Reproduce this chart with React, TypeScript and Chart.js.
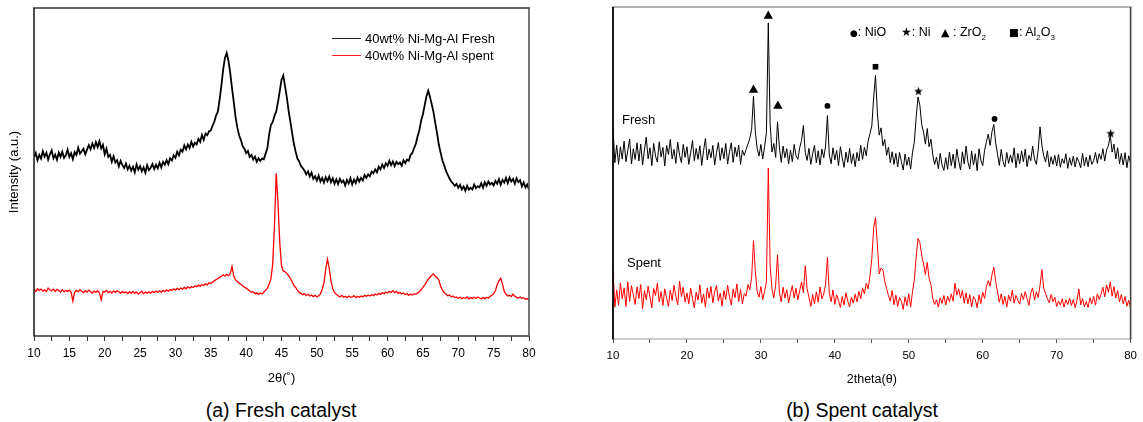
import React, { useEffect, useRef } from "react";
import { Chart, registerables } from "chart.js";

Chart.register(...registerables);

const FONT = '"Liberation Sans", Arial, Helvetica, sans-serif';

// Scan grid: 2θ from 10° in 0.25° steps (281 samples to 80°)
const SCAN_START = 10;
const SCAN_STEP = 0.25;

// (a) Fresh catalyst – relative intensity (a.u.)
const FRESH_A = [
  54.5, 55.8, 53.6, 55.2, 54.1, 56.3, 54.7, 55.9, 53.8, 55.4, 56.6, 54.2, 55.3, 53.7, 55.9, 54.6, 56.2, 54.3, 55.1, 56.8,
  54.6, 55.7, 53.9, 56.1, 55.2, 57.4, 55.6, 56.3, 57.1, 55.4, 56.8, 58.2, 56.9, 58.7, 57.3, 59.1, 57.6, 59.4, 57.2, 58.3,
  55.4, 57.1, 54.6, 55.2, 53.1, 54.8, 52.9, 53.6, 51.7, 53.4, 52.1, 51.2, 52.6, 50.8, 51.9, 50.4, 51.6, 49.9, 52.3, 50.7,
  51.8, 50.2, 51.4, 49.8, 52.1, 50.6, 51.3, 52.4, 50.9, 52.2, 51.1, 52.8, 51.4, 53.1, 52.2, 53.6, 52.4, 54.2, 53.5, 55.1,
  54.3, 56.2, 55.1, 56.8, 56.2, 58.1, 56.9, 58.4, 57.3, 59.2, 57.8, 58.9, 58.4, 60.1, 59.2, 61.3, 59.8, 61.7, 61.2, 62.4,
  62.6, 64.1, 65.3, 67.2, 68.4, 72.1, 76.3, 81.2, 84.8, 86.3, 83.9, 80.2, 75.6, 71.4, 66.8, 63.6, 61.2, 59.8, 57.9, 57.1,
  55.7, 56.4, 54.6, 55.2, 53.8, 54.7, 53.1, 54.2, 53.4, 54.1, 53.9, 55.6, 57.2, 61.4, 64.3, 65.2, 67.1, 68.4, 71.3, 74.6,
  78.1, 79.4, 76.2, 72.8, 68.7, 65.4, 61.9, 58.6, 56.2, 54.1, 53.2, 51.8, 51.2, 50.4, 49.3, 50.2, 48.6, 49.8, 47.9, 48.7,
  47.4, 48.9, 47.1, 48.2, 46.8, 48.4, 47.2, 48.6, 46.9, 48.1, 46.4, 47.8, 46.3, 47.9, 46.8, 47.4, 45.9, 47.6, 46.5, 48.1,
  46.2, 47.7, 46.6, 48.3, 47.1, 48.2, 47.4, 49.1, 48.2, 49.3, 48.7, 50.1, 49.6, 50.8, 49.9, 51.6, 50.8, 52.3, 51.2, 52.7,
  51.9, 53.4, 52.1, 53.2, 51.8, 53.1, 52.4, 52.9, 51.9, 53.6, 52.7, 53.8, 53.4, 55.2, 55.8, 57.3, 58.6, 60.9, 62.8, 65.7,
  67.6, 70.4, 73.1, 74.8, 72.9, 70.6, 68.2, 64.9, 61.8, 58.3, 55.9, 53.6, 52.1, 50.4, 49.2, 48.1, 47.1, 46.5, 45.8, 46.4,
  45.2, 46.1, 44.7, 45.6, 44.3, 45.8, 44.6, 45.2, 44.7, 46.2, 45.1, 45.7, 45.3, 46.6, 45.2, 46.9, 45.8, 47.1, 46.2, 46.7,
  45.9, 47.3, 46.4, 47.8, 46.1, 47.6, 46.8, 48.2, 46.6, 48.3, 47.1, 47.9, 46.4, 48.1, 46.9, 47.5, 45.6, 46.8, 45.3, 46.2,
  44.6,
];

const SPENT_A = [
  14.2, 13.6, 14.4, 13.9, 14.3, 13.7, 14.1, 13.5, 14.6, 14.1, 13.8, 14.3, 13.6, 14.2, 13.9, 13.4, 14.1, 13.5, 13.9, 13.6,
  14.0, 13.3, 10.6, 13.4, 13.9, 13.5, 14.1, 13.6, 13.2, 13.8, 13.4, 14.0, 13.5, 13.1, 13.7, 13.3, 13.8, 13.2, 11.0, 13.6,
  13.4, 13.9, 13.2, 13.6, 13.1, 13.7, 13.3, 13.8, 13.5, 13.0, 13.6, 13.2, 13.4, 12.9, 13.5, 13.1, 13.6, 13.0, 13.4, 12.8,
  13.3, 13.7, 12.9, 13.4, 13.0, 13.5, 13.1, 13.6, 13.2, 13.7, 13.3, 13.8, 13.4, 13.9, 13.5, 14.1, 13.7, 14.2, 13.9, 14.4,
  14.0, 14.5, 14.1, 14.6, 14.3, 14.8, 14.4, 15.0, 14.6, 15.1, 14.8, 15.3, 15.0, 15.5, 15.2, 15.7, 15.4, 15.9, 15.6, 16.2,
  16.0, 16.4, 16.8, 17.2, 17.5, 17.9, 18.2, 18.6, 18.3, 18.8, 18.4, 19.0, 21.2, 18.2, 17.1, 16.6, 16.1, 15.8, 15.3, 14.9,
  14.6, 14.2, 13.7, 13.3, 13.5, 12.9, 13.2, 12.7, 13.1, 12.8, 13.4, 13.9, 14.6, 15.8, 17.4, 21.8, 33.2, 49.6, 40.8, 28.6,
  21.4, 19.8, 19.6, 19.1, 18.4, 17.6, 16.5, 15.4, 14.8, 14.0, 13.3, 13.0, 12.6, 12.9, 12.3, 12.7, 12.2, 12.5, 12.0, 12.4,
  11.9, 12.3, 12.8, 14.2, 16.1, 20.4, 23.4, 20.6, 16.8, 14.4, 13.2, 12.7, 12.3, 11.9, 12.4, 11.8, 12.1, 11.7, 12.2, 11.8,
  11.9, 12.3, 11.7, 12.1, 11.8, 12.2, 11.9, 12.4, 12.1, 12.5, 12.2, 12.6, 12.3, 12.8, 12.5, 13.0, 12.7, 13.2, 12.9, 13.4,
  13.1, 13.6, 13.3, 13.8, 13.2, 13.6, 13.0, 13.3, 12.8, 13.1, 12.6, 12.9, 12.4, 12.8, 12.5, 12.9, 12.7, 13.1, 13.5, 14.1,
  14.8, 15.6, 16.4, 17.3, 17.9, 18.5, 18.9, 18.2, 17.8, 17.1, 15.2, 14.1, 13.2, 12.8, 12.3, 12.5, 11.9, 12.2, 11.7, 11.9,
  11.5, 11.8, 11.4, 11.7, 11.5, 11.9, 11.3, 11.7, 11.4, 11.8, 11.5, 11.9, 11.6, 11.3, 11.7, 11.4, 11.8, 11.5, 12.1, 12.4,
  12.9, 13.8, 15.6, 16.8, 17.6, 15.8, 13.6, 12.7, 12.2, 12.4, 12.0, 12.8, 12.1, 11.8, 11.6, 11.9, 11.5, 11.7, 11.2, 11.4,
  10.9,
];

// (b) Spent catalyst panel – Fresh and Spent patterns
const FRESH_B = [
  63.5, 53.1, 58.4, 52.6, 57.9, 54.2, 59.6, 53.4, 56.8, 60.2, 52.7, 57.3, 54.1, 59.1, 53.6, 58.7, 52.4, 56.9, 60.8, 54.3,
  57.6, 52.2, 58.9, 55.1, 53.3, 59.4, 54.8, 57.7, 52.1, 58.3, 55.6, 60.1, 54.2, 57.1, 52.9, 59.3, 55.4, 53.1, 58.6, 54.7,
  57.9, 52.6, 56.1, 59.8, 53.7, 57.4, 54.1, 58.2, 52.3, 56.8, 60.4, 53.9, 57.2, 54.6, 58.3, 52.4, 56.1, 59.2, 53.8, 57.6,
  54.3, 58.9, 52.7, 56.4, 59.1, 53.2, 57.8, 54.9, 58.4, 52.6, 56.9, 55.3, 57.1, 58.7, 60.4, 63.2, 73.1, 62.4, 57.3, 55.1,
  58.6, 54.2, 57.9, 62.1, 95.2, 64.8, 56.3, 58.9, 54.7, 65.4, 57.8, 53.2, 58.1, 54.6, 57.3, 52.8, 56.9, 53.4, 58.6, 55.2,
  54.1, 57.6, 59.8, 64.3, 56.2, 53.8, 57.4, 52.6, 55.8, 58.3, 53.1, 56.7, 52.4, 57.2, 54.6, 58.1, 67.3, 55.4, 52.8, 57.6,
  53.9, 56.8, 52.2, 57.9, 54.6, 51.7, 56.3, 53.2, 57.4, 52.9, 55.8, 51.9, 56.2, 53.6, 58.4, 54.1, 57.7, 55.2, 59.6, 61.8,
  64.2, 72.6, 79.4, 68.3, 61.4, 63.6, 58.2, 60.1, 55.3, 57.8, 53.1, 56.4, 52.6, 55.9, 51.8, 56.2, 53.4, 50.9, 55.7, 52.3,
  54.8, 51.2, 56.1, 59.3, 66.8, 72.9, 70.4, 64.6, 62.3, 58.7, 63.4, 57.9, 60.2, 55.4, 52.6, 54.8, 51.3, 55.9, 52.4, 50.8,
  54.6, 51.1, 56.3, 52.2, 55.7, 51.4, 57.2, 53.6, 50.9, 56.4, 52.7, 58.1, 53.3, 51.2, 56.6, 52.4, 55.8, 50.7, 57.3, 53.9,
  52.2, 56.8, 59.4, 61.7, 58.3, 62.4, 64.6, 59.1, 55.7, 52.3, 57.1, 53.4, 51.8, 56.2, 52.9, 55.4, 53.1, 57.6, 51.6, 55.9,
  52.8, 56.7, 53.4, 57.2, 51.9, 55.3, 53.7, 58.1, 54.2, 52.6, 56.9, 63.9, 58.4, 55.2, 53.3, 56.7, 51.8, 54.9, 52.6, 55.3,
  52.1, 55.6, 51.7, 54.3, 52.9, 55.8, 51.4, 54.6, 52.3, 55.1, 51.8, 54.7, 53.4, 51.6, 55.9, 52.2, 54.8, 51.9, 55.4, 52.6,
  53.7, 56.2, 52.9, 55.8, 54.1, 57.3, 53.6, 56.9, 58.2, 61.4, 56.3, 58.7, 54.2, 57.6, 52.8, 55.9, 52.4, 56.1, 51.6, 55.2,
  52.8,
];

const SPENT_B = [
  21.5, 9.6, 14.8, 10.2, 16.9, 12.1, 15.4, 9.8, 17.2, 11.3, 16.1, 13.2, 10.4, 15.7, 12.2, 16.4, 9.1, 14.6, 11.8, 15.9,
  12.6, 9.4, 15.2, 13.1, 16.8, 11.2, 14.3, 10.1, 15.1, 12.4, 9.8, 14.7, 11.6, 16.2, 12.9, 10.3, 17.4, 12.8, 15.6, 11.1,
  13.9, 10.6, 15.3, 12.2, 9.4, 14.1, 11.7, 16.3, 10.8, 13.6, 9.6, 15.4, 12.3, 15.8, 10.9, 14.2, 16.1, 11.4, 13.8, 9.9,
  14.6, 11.9, 16.2, 12.7, 10.2, 15.1, 12.4, 16.6, 11.3, 14.9, 10.6, 13.7, 12.9, 16.4, 14.8, 18.6, 29.6, 20.4, 14.2, 12.6,
  15.8, 11.9, 14.3, 17.2, 51.5, 22.3, 15.1, 12.4, 16.2, 25.4, 14.1, 11.2, 15.6, 12.3, 14.8, 10.9, 13.7, 16.1, 12.4, 15.3,
  11.8, 14.6, 17.2, 13.9, 22.1, 15.2, 12.6, 9.8, 13.4, 10.6, 14.2, 11.1, 15.7, 12.1, 13.6, 16.4, 24.6, 13.9, 11.2, 14.8,
  10.4, 13.3, 11.6, 9.5, 12.8, 10.2, 13.9, 11.4, 9.7, 12.6, 10.8, 13.5, 11.2, 14.3, 12.1, 15.4, 13.6, 16.8, 15.1, 18.9,
  24.2, 33.4, 36.6, 28.3, 19.6, 21.4, 20.8, 17.3, 15.2, 13.1, 11.4, 14.6, 10.3, 13.2, 9.8, 12.5, 11.4, 8.9, 12.7, 10.1,
  13.6, 9.7, 14.2, 17.8, 24.6, 30.3, 29.1, 25.2, 22.6, 19.4, 23.1, 18.2, 16.4, 12.1, 10.4, 11.8, 9.6, 12.4, 10.7, 13.1,
  10.2, 12.9, 11.3, 13.6, 11.4, 16.8, 13.2, 15.1, 12.3, 14.6, 10.8, 13.9, 10.6, 13.4, 9.6, 12.8, 11.9, 9.4, 13.3, 10.7,
  14.1, 12.2, 15.8, 17.6, 15.9, 19.3, 21.6, 17.4, 14.2, 11.1, 13.6, 10.4, 12.8, 9.6, 13.2, 11.4, 14.7, 10.8, 13.1, 11.6,
  10.5, 13.7, 11.9, 14.3, 12.2, 10.1, 13.8, 15.4, 11.7, 14.2, 12.5, 16.1, 20.9, 15.3, 13.7, 12.1, 10.9, 13.4, 11.2, 12.6,
  9.8, 11.4, 10.2, 12.1, 9.6, 11.8, 10.4, 12.3, 10.1, 11.9, 9.4, 11.6, 15.1, 10.3, 12.2, 9.7, 11.3, 9.5, 12.4, 10.6,
  12.8, 10.2, 13.6, 11.9, 13.4, 15.6, 12.7, 16.3, 14.1, 17.2, 12.9, 15.8, 12.3, 14.6, 11.2, 13.4, 10.6, 12.8, 9.9, 11.7,
  9.2,
];

// Phase markers (2θ position, marker height in a.u.)
const ZRO2_X = [29.0, 31.0, 32.3];
const ZRO2_Y = [75.0, 97.3, 70.2];
const NIO_X = [39.0, 61.6];
const NIO_Y = [70.2, 66.3];
const NI_X = [51.3, 77.3];
const NI_Y = [74.7, 62.0];
const AL2O3_X = [45.5];
const AL2O3_Y = [82.0];

const X_MIN = 10;
const X_MAX = 80;

const toXY = (vals: number[]) => vals.map((v, i) => ({ x: SCAN_START + i * SCAN_STEP, y: v }));
const pairs = (xs: number[], ys: number[]) => xs.map((x, i) => ({ x, y: ys[i] }));

type Side = { color: string; width: number };
const framePlugin = {
  id: "frame",
  afterDatasetsDraw(chart: any, _args: any, opts: any) {
    const { ctx, chartArea } = chart;
    const { left, right, top, bottom } = chartArea;
    const line = (s: Side | undefined, x1: number, y1: number, x2: number, y2: number) => {
      if (!s) return;
      ctx.save();
      ctx.strokeStyle = s.color;
      ctx.lineWidth = s.width;
      ctx.beginPath();
      ctx.moveTo(x1, y1);
      ctx.lineTo(x2, y2);
      ctx.stroke();
      ctx.restore();
    };
    line(opts.top, left - 1, top, right + 1, top);
    line(opts.bottom, left, bottom, right, bottom);
    line(opts.left, left, top, left, bottom + 0.5);
    line(opts.right, right, top, right, bottom + 0.5);
  },
};

function makeStar(size: number) {
  const c = document.createElement("canvas");
  c.width = size;
  c.height = size;
  const g = c.getContext("2d")!;
  g.fillStyle = "#000";
  g.beginPath();
  for (let i = 0; i < 10; i++) {
    const r = i % 2 === 0 ? size / 2 : size / 4.6;
    const a = -Math.PI / 2 + (i * Math.PI) / 5;
    g.lineTo(size / 2 + r * Math.cos(a), size / 2 + 0.5 + r * Math.sin(a));
  }
  g.closePath();
  g.fill();
  return c;
}

export default function App() {
  const refA = useRef<HTMLCanvasElement>(null);
  const refB = useRef<HTMLCanvasElement>(null);

  useEffect(() => {
    const chartA = new Chart(refA.current!, {
      type: "line",
      data: {
        datasets: [
          { label: "40wt% Ni-Mg-Al Fresh", data: toXY(FRESH_A), borderColor: "#000", borderWidth: 1.8, pointRadius: 0 },
          { label: "40wt% Ni-Mg-Al spent", data: toXY(SPENT_A), borderColor: "#ff0000", borderWidth: 1.3, pointRadius: 0 },
        ],
      },
      options: {
        animation: false,
        responsive: false,
        devicePixelRatio: 1,
        layout: { padding: { left: 0, top: 8, right: 31, bottom: 0 } },
        plugins: {
          legend: { display: false },
          tooltip: { enabled: false },
          frame: {
            top: { color: "#333", width: 1.6 },
            bottom: { color: "#333", width: 1.6 },
            left: { color: "#222", width: 1.6 },
            right: { color: "#555", width: 1.6 },
          },
        } as any,
        scales: {
          x: {
            type: "linear",
            min: X_MIN,
            max: X_MAX,
            border: { display: false },
            grid: { drawOnChartArea: false, tickLength: 5, color: "#333" },
            ticks: {
              stepSize: 2.5,
              autoSkip: false,
              maxRotation: 0,
              padding: 5,
              color: "#000",
              font: { family: FONT, size: 12 },
              callback: (v: any) => (Number(v) % 5 === 0 ? String(v) : ""),
            },
            title: {
              display: true,
              text: "2θ(˚)",
              color: "#000",
              font: { family: FONT, size: 13 },
              padding: { top: 0, bottom: 6 },
            },
            afterFit: (s: any) => {
              s.height = 56;
            },
          },
          y: {
            type: "linear",
            min: 0,
            max: 100,
            border: { display: false },
            grid: { display: false },
            ticks: { display: false },
            title: {
              display: true,
              text: "Intensity (a.u.)",
              color: "#000",
              font: { family: FONT, size: 13 },
              padding: { top: 7, bottom: 0 },
            },
            afterFit: (s: any) => {
              s.width = 34;
            },
          },
        },
      },
      plugins: [framePlugin],
    } as any);

    const star = makeStar(9);
    const markerBase = { showLine: false, clip: false, pointBorderWidth: 0 } as any;

    const chartB = new Chart(refB.current!, {
      type: "line",
      data: {
        datasets: [
          { label: "Fresh", data: toXY(FRESH_B), borderColor: "#000", borderWidth: 1, pointRadius: 0 },
          { label: "Spent", data: toXY(SPENT_B), borderColor: "#ff0000", borderWidth: 1, pointRadius: 0 },
          { ...markerBase, label: "ZrO2", data: pairs(ZRO2_X, ZRO2_Y), pointStyle: "triangle", pointRadius: 5.4, backgroundColor: "#000", borderColor: "#000" },
          { ...markerBase, label: "NiO", data: pairs(NIO_X, NIO_Y), pointStyle: "circle", pointRadius: 2.9, backgroundColor: "#000", borderColor: "#000" },
          { ...markerBase, label: "Al2O3", data: pairs(AL2O3_X, AL2O3_Y), pointStyle: "rect", pointRadius: 4, backgroundColor: "#000", borderColor: "#000" },
          { ...markerBase, label: "Ni", data: pairs(NI_X, NI_Y), pointStyle: star, pointRadius: 4.5, backgroundColor: "#000", borderColor: "#000" },
        ],
      },
      options: {
        animation: false,
        responsive: false,
        devicePixelRatio: 1,
        layout: { padding: { left: 33, top: 7, right: 12, bottom: 0 } },
        plugins: {
          legend: { display: false },
          tooltip: { enabled: false },
          frame: {
            top: { color: "#666", width: 1.2 },
            bottom: { color: "#999", width: 1 },
            left: { color: "#000", width: 1.8 },
            right: { color: "#444", width: 1.6 },
          },
        } as any,
        scales: {
          x: {
            type: "linear",
            min: X_MIN,
            max: X_MAX,
            border: { display: false },
            grid: { drawOnChartArea: false, tickLength: 4, color: "#555" },
            ticks: {
              stepSize: 5,
              autoSkip: false,
              maxRotation: 0,
              padding: 6,
              color: "#000",
              font: { family: FONT, size: 11.5 },
              callback: (v: any) => (Number(v) % 10 === 0 ? String(v) : ""),
            },
            title: {
              display: true,
              text: "2theta(θ)",
              color: "#000",
              font: { family: FONT, size: 12.5 },
              padding: { top: 0, bottom: 5 },
            },
            afterFit: (s: any) => {
              s.height = 53;
            },
          },
          y: { type: "linear", min: 0, max: 100, display: false },
        },
      },
      plugins: [framePlugin],
    } as any);

    return () => {
      chartA.destroy();
      chartB.destroy();
    };
  }, []);

  const txt = (extra: React.CSSProperties): React.CSSProperties => ({
    position: "absolute",
    fontFamily: FONT,
    color: "#000",
    whiteSpace: "nowrap",
    ...extra,
  });

  const sym = (size: number): React.CSSProperties => ({ fontFamily: '"DejaVu Sans", sans-serif', fontSize: size });
  const subStyle: React.CSSProperties = { fontSize: 8 };

  return (
    <div style={{ position: "fixed", left: 0, top: 0, width: 1143, height: 422, background: "#fff", overflow: "hidden" }}>
      <canvas ref={refA} width={560} height={392} style={{ position: "absolute", left: 0, top: 0 }} />
      <canvas ref={refB} width={563} height={392} style={{ position: "absolute", left: 580, top: 0 }} />

      {/* Legend of panel (a) */}
      <div style={{ position: "absolute", left: 332, top: 38, width: 29, borderTop: "1px solid #222" }} />
      <div style={{ position: "absolute", left: 332, top: 55, width: 29, borderTop: "1.5px solid #ff2020" }} />
      <div style={txt({ left: 365, top: 30, fontSize: 13, lineHeight: "17px" })}>40wt% Ni-Mg-Al Fresh</div>
      <div style={txt({ left: 365, top: 47, fontSize: 13, lineHeight: "17px" })}>40wt% Ni-Mg-Al spent</div>

      {/* Phase legend of panel (b) */}
      <div style={txt({ left: 850, top: 24, fontSize: 12.5, lineHeight: "17px" })}>
        <span style={sym(9)}>●</span>: NiO
      </div>
      <div style={txt({ left: 901, top: 24, fontSize: 12.5, lineHeight: "17px" })}>
        <span style={sym(12)}>★</span>: Ni
      </div>
      <div style={txt({ left: 941, top: 24, fontSize: 12.5, lineHeight: "17px" })}>
        <span style={sym(11)}>▲</span> : ZrO<sub style={subStyle}>2</sub>
      </div>
      <div style={txt({ left: 1009, top: 24, fontSize: 12.5, lineHeight: "17px" })}>
        <span style={sym(10.5)}>■</span>: Al<sub style={subStyle}>2</sub>O<sub style={subStyle}>3</sub>
      </div>

      {/* Series labels of panel (b) */}
      <div style={txt({ left: 622, top: 112, fontSize: 13, lineHeight: "16px" })}>Fresh</div>
      <div style={txt({ left: 627, top: 255, fontSize: 13, lineHeight: "16px" })}>Spent</div>

      {/* Captions */}
      <div style={txt({ left: 161, width: 240, top: 398, fontSize: 19.5, lineHeight: "24px", textAlign: "center" })}>(a) Fresh catalyst</div>
      <div style={txt({ left: 742, width: 240, top: 398, fontSize: 19.5, lineHeight: "24px", textAlign: "center" })}>(b) Spent catalyst</div>
    </div>
  );
}
